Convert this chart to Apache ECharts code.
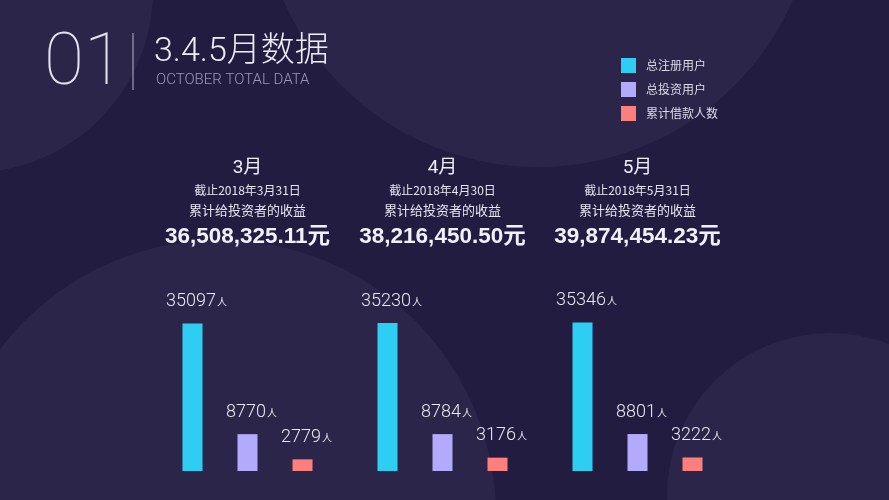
<!DOCTYPE html>
<html>
<head>
<meta charset="utf-8">
<script src="https://cdn.jsdelivr.net/npm/echarts@6/dist/echarts.min.js"></script>
<style>
html,body{margin:0;padding:0;background:#221d40;}
#main{width:889px;height:500px;}
</style>
</head>
<body>
<div id="main"></div>
<script>
// ---- data ----
const months = ['3月', '4月', '5月'];
const dateLines = ['截止2018年3月31日', '截止2018年4月30日', '截止2018年5月31日'];
const incomeCaption = '累计给投资者的收益';
const incomeTotals = ['36,508,325.11元', '38,216,450.50元', '39,874,454.23元'];
const seriesNames = ['总注册用户', '总投资用户', '累计借款人数'];
const registeredUsers = [35097, 35230, 35346];
const investingUsers = [8770, 8784, 8801];
const borrowers = [2779, 3176, 3222];
const unit = '人';
const pageNumber = '01';
const pageTitle = '3.4.5月数据';
const pageSubtitle = 'OCTOBER TOTAL DATA';

const colors = ['#2ecdf2', '#b3aafc', '#fc7f7d'];
const latin = 'Roboto, "Liberation Sans", "Noto Sans CJK SC", sans-serif';
const cjk = '"Noto Sans CJK SC", "Liberation Sans", sans-serif';

const chart = echarts.init(document.getElementById('main'), null, {renderer: 'canvas'});

function makeSeries(name, data, color) {
  return {
    name: name,
    type: 'bar',
    data: data,
    barWidth: 20,
    barGap: '175%',
    itemStyle: {color: color},
    z: 5,
    label: {
      show: true,
      position: 'top',
      distance: 11,
      offset: [4, 0],
      formatter: function (p) { return '{a|' + p.value + '}{b|' + unit + '}'; },
      rich: {
        a: {fontSize: 18, fontFamily: latin, fontWeight: 300, color: '#e8e6f2', lineHeight: 22},
        b: {fontSize: 10, fontFamily: cjk, color: '#e8e6f2', lineHeight: 12, verticalAlign: 'bottom', padding: [0, 0, 5, 1]}
      }
    }
  };
}

const bgGraphics = [
  {type: 'circle', shape: {cx: -30, cy: -10, r: 183}, style: {fill: '#2b2649'}, z: -10, silent: true},
  {type: 'circle', shape: {cx: 538, cy: -111, r: 278}, style: {fill: '#2b2649'}, z: -10, silent: true},
  {type: 'circle', shape: {cx: 220, cy: 516, r: 276}, style: {fill: '#2b2649'}, z: -10, silent: true},
  {type: 'circle', shape: {cx: 830, cy: 496, r: 163}, style: {fill: '#2b2649'}, z: -10, silent: true},
  {type: 'text', x: 84, y: 66, style: {text: pageNumber, fontSize: 73, fontWeight: 100, fontFamily: latin, fill: '#e4e2ee', align: 'center', verticalAlign: 'middle'}, z: 10},
  {type: 'rect', shape: {x: 132.5, y: 33, width: 1, height: 57}, style: {fill: '#b8b4cc'}, z: 10},
  {type: 'text', x: 154, y: 52, style: {text: pageTitle, fontSize: 34, fontWeight: 300, fontFamily: latin, fill: '#eeecf6', align: 'left', verticalAlign: 'middle'}, z: 10},
  {type: 'text', x: 156, y: 80, style: {text: pageSubtitle, fontSize: 15, fontWeight: 300, fontFamily: latin, fill: '#9c98b8', align: 'left', verticalAlign: 'middle'}, z: 10}
];

const option = {
  backgroundColor: '#221d40',
  animation: false,
  color: colors,
  legend: {
    orient: 'vertical',
    left: 621,
    top: 58,
    padding: 0,
    itemWidth: 15,
    itemHeight: 15,
    itemGap: 9,
    icon: 'rect',
    data: seriesNames,
    textStyle: {color: '#dcdaea', fontSize: 12, fontFamily: cjk, padding: [0, 0, 0, 5]}
  },
  grid: {left: 150, right: 154, top: 303, bottom: 29},
  xAxis: {
    type: 'category',
    data: months,
    show: false
  },
  yAxis: {
    type: 'value',
    min: 0,
    max: 40000,
    show: false
  },
  graphic: bgGraphics,
  series: [
    makeSeries(seriesNames[0], registeredUsers, colors[0]),
    makeSeries(seriesNames[1], investingUsers, colors[1]),
    makeSeries(seriesNames[2], borrowers, colors[2])
  ]
};
chart.setOption(option);

// headers above each month group, positioned at the category centres
const headerGraphics = bgGraphics.slice();
months.forEach(function (m, i) {
  const cx = chart.convertToPixel({xAxisIndex: 0}, m);
  headerGraphics.push(
    {type: 'text', x: cx, y: 168, style: {text: m, fontSize: 19, fontFamily: latin, fill: '#eeecf6', align: 'center', verticalAlign: 'middle'}, z: 10},
    {type: 'text', x: cx, y: 190, style: {text: dateLines[i], fontSize: 12, fontFamily: cjk, fill: '#e6e4f0', align: 'center', verticalAlign: 'middle'}, z: 10},
    {type: 'text', x: cx, y: 210, style: {text: incomeCaption, fontSize: 13, fontFamily: cjk, fill: '#e6e4f0', align: 'center', verticalAlign: 'middle'}, z: 10},
    {type: 'text', x: cx, y: 237, style: {text: incomeTotals[i], fontSize: 22.5, fontWeight: 'bold', fontFamily: '"Liberation Sans", "Noto Sans CJK SC", sans-serif', fill: '#f2f0ff', align: 'center', verticalAlign: 'middle'}, z: 10}
  );
});
chart.setOption({graphic: headerGraphics}, {replaceMerge: ['graphic']});
</script>
</body>
</html>
